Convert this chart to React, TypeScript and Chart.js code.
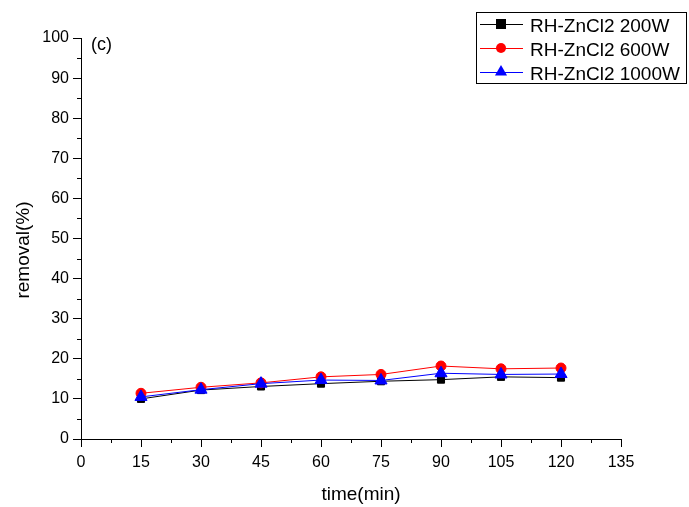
import React, { useEffect, useRef } from "react";
import { Chart, registerables } from "chart.js";

Chart.register(...registerables);

const times = [15, 30, 45, 60, 75, 90, 105, 120];
const series200W = [10.0, 12.2, 13.1, 13.8, 14.4, 14.8, 15.5, 15.3];
const series600W = [11.4, 12.9, 14.0, 15.5, 16.1, 18.2, 17.5, 17.7];
const series1000W = [10.5, 12.3, 13.8, 14.7, 14.6, 16.4, 16.1, 16.2];
const seriesLabels = ["RH-ZnCl2 200W", "RH-ZnCl2 600W", "RH-ZnCl2 1000W"];
const xTitle = "time(min)";
const yTitle = "removal(%)";
const panelLabel = "(c)";

const FONT = "'Liberation Sans', Arial, sans-serif";

const overlayPlugin = {
  id: "overlay",
  afterDraw(chart: any) {
    const ctx = chart.ctx;
    const xs = chart.scales.x;
    const ys = chart.scales.y;
    const area = chart.chartArea;
    ctx.save();
    // minor ticks
    ctx.strokeStyle = "#000";
    ctx.lineWidth = 1;
    ctx.beginPath();
    for (let v = 7.5; v < 135; v += 15) {
      const px = Math.round(xs.getPixelForValue(v)) + 0.5;
      ctx.moveTo(px, area.bottom);
      ctx.lineTo(px, area.bottom + 4);
    }
    for (let v = 5; v < 100; v += 10) {
      const py = Math.round(ys.getPixelForValue(v)) + 0.5;
      ctx.moveTo(area.left, py);
      ctx.lineTo(area.left - 4, py);
    }
    ctx.stroke();

    // titles
    ctx.fillStyle = "#000";
    ctx.font = `19px ${FONT}`;
    ctx.textAlign = "center";
    ctx.textBaseline = "alphabetic";
    ctx.fillText(xTitle, 361, 500);
    ctx.save();
    ctx.translate(29, 250);
    ctx.rotate(-Math.PI / 2);
    ctx.fillText(yTitle, 0, 0);
    ctx.restore();

    // panel label
    ctx.font = `18px ${FONT}`;
    ctx.textAlign = "left";
    ctx.fillText(panelLabel, 91, 50);

    // legend
    const bx = 476, by = 12, bw = 210, bh = 71;
    ctx.strokeStyle = "#000";
    ctx.lineWidth = 1;
    ctx.strokeRect(bx + 0.5, by + 0.5, bw, bh);
    chart.data.datasets.forEach((ds: any, i: number) => {
      const cy = 24 + i * 24;
      ctx.strokeStyle = ds.borderColor;
      ctx.lineWidth = 1;
      ctx.beginPath();
      ctx.moveTo(480, cy + 0.5);
      ctx.lineTo(523, cy + 0.5);
      ctx.stroke();
      ctx.fillStyle = ds.pointBackgroundColor;
      const cx = 501;
      const r = ds.pointRadius;
      if (ds.pointStyle === "rect") {
        ctx.fillRect(cx - r, cy - r, 2 * r, 2 * r);
      } else if (ds.pointStyle === "circle") {
        ctx.beginPath();
        ctx.arc(cx, cy, r, 0, Math.PI * 2);
        ctx.fill();
      } else {
        ctx.beginPath();
        ctx.moveTo(cx, cy - r);
        ctx.lineTo(cx + r * 0.866, cy + r * 0.5);
        ctx.lineTo(cx - r * 0.866, cy + r * 0.5);
        ctx.closePath();
        ctx.fill();
      }
      ctx.fillStyle = "#000";
      ctx.font = `19px ${FONT}`;
      ctx.textAlign = "left";
      ctx.textBaseline = "alphabetic";
      ctx.fillText(ds.label, 530, cy + 7.5);
    });
    ctx.restore();
  },
};

export default function App() {
  const ref = useRef<HTMLCanvasElement | null>(null);
  useEffect(() => {
    if (!ref.current) return;
    const mk = (vals: number[]) => times.map((t, i) => ({ x: t, y: vals[i] }));
    const chart = new Chart(ref.current, {
      type: "line",
      data: {
        datasets: [
          {
            label: seriesLabels[0],
            data: mk(series200W),
            borderColor: "#000000",
            backgroundColor: "#000000",
            pointBackgroundColor: "#000000",
            pointBorderColor: "#000000",
            pointStyle: "rect",
            pointRadius: 5,
            borderWidth: 1,
            order: 3,
          },
          {
            label: seriesLabels[1],
            data: mk(series600W),
            borderColor: "#ff0000",
            backgroundColor: "#ff0000",
            pointBackgroundColor: "#ff0000",
            pointBorderColor: "#ff0000",
            pointStyle: "circle",
            pointRadius: 5,
            borderWidth: 1,
            order: 2,
          },
          {
            label: seriesLabels[2],
            data: mk(series1000W),
            borderColor: "#0000ff",
            backgroundColor: "#0000ff",
            pointBackgroundColor: "#0000ff",
            pointBorderColor: "#0000ff",
            pointStyle: "triangle",
            pointRadius: 7,
            borderWidth: 1,
            order: 1,
          },
        ] as any,
      },
      options: {
        responsive: false,
        animation: false,
        layout: { padding: { left: 0, top: 38, right: 68, bottom: 0 } },
        plugins: { legend: { display: false }, tooltip: { enabled: false }, title: { display: false } },
        scales: {
          x: {
            type: "linear",
            min: 0,
            max: 135,
            afterFit: (s: any) => { s.height = 68; },
            ticks: { stepSize: 15, color: "#000", font: { size: 16, family: FONT }, padding: 6, maxRotation: 0, autoSkip: false },
            grid: { drawOnChartArea: false, drawTicks: true, tickLength: 8, color: "#000", lineWidth: 1 },
            border: { display: true, color: "#000", width: 1 },
          },
          y: {
            type: "linear",
            min: 0,
            max: 100,
            afterFit: (s: any) => { s.width = 81; },
            ticks: { stepSize: 10, color: "#000", font: { size: 16, family: FONT }, padding: 4 },
            grid: { drawOnChartArea: false, drawTicks: true, tickLength: 8, color: "#000", lineWidth: 1 },
            border: { display: true, color: "#000", width: 1 },
          },
        },
      } as any,
      plugins: [overlayPlugin],
    });
    return () => chart.destroy();
  }, []);
  return (
    <canvas
      ref={ref}
      width={689}
      height={507}
      style={{ position: "absolute", left: 0, top: 0, width: 689, height: 507 }}
    />
  );
}
